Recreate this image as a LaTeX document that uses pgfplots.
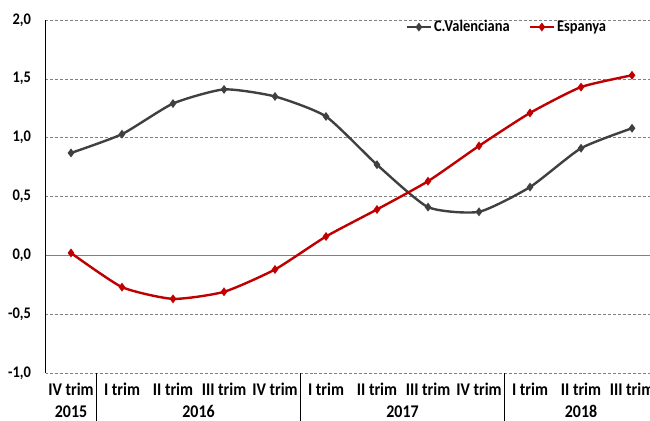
\documentclass[border=0pt]{standalone}
\usepackage{fontspec}
\setmainfont{Carlito}
\usepackage{graphicx}
\usepackage{pgfplots}
\pgfplotsset{compat=1.18}
\definecolor{cv}{HTML}{404040}
\definecolor{es}{HTML}{C00000}
\newcommand\vs[1]{\scalebox{1}[1.12]{#1}}
\begin{document}
\begin{tikzpicture}[x=1bp,y=1bp]
\useasboundingbox (0,0) rectangle (650,420);
\clip (0,0) rectangle (650,420);
\begin{axis}[
  scale only axis,
  width=612bp, height=353bp,
  at={(45.5bp,47bp)}, anchor=south west,
  xmin=-0.5, xmax=11.5, ymin=-1, ymax=2,
  xtick={0,...,11},
  xticklabels={\vs{IV trim}, \vs{I trim}, \vs{II trim}, \vs{III trim}, \vs{IV trim}, \vs{I trim}, \vs{II trim}, \vs{III trim}, \vs{IV trim}, \vs{I trim}, \vs{II trim}, \vs{III trim}},
  ytick={-1,-0.5,0,0.5,1,1.5,2},
  yticklabel={\vs{\pgfmathprintnumber{\tick}}},
  major tick length=0,
  separate axis lines,
  x axis line style={draw=none},
  y axis line style={draw=black, line width=0.8bp},
  ymajorgrids,
  grid style={gray, densely dashed, line width=0.6bp},
  extra y ticks={0},
  extra y tick labels={},
  extra y tick style={grid style={solid, gray, line width=1.5bp}},
  /pgf/number format/.cd, fixed, fixed zerofill, precision=1, use comma, assume math mode=true,
  /pgfplots/.cd,
  yticklabel style={font=\fontsize{14.5}{17}\selectfont\bfseries, xshift=-11bp},
  xticklabel style={font=\fontsize{16}{19}\selectfont\bfseries, anchor=base, yshift=-22bp},
  legend style={draw=none, fill=none, legend columns=2,
    font=\fontsize{14.5}{17}\selectfont\bfseries,
    /tikz/every even column/.append style={column sep=17bp},
    at={(axis cs:6.5,1.94)}, anchor=west},
  legend image code/.code={\draw[mark repeat=2,mark phase=2,#1] plot coordinates {(0bp,0bp) (12bp,0bp) (24bp,0bp)};},
]
\addplot[cv, line width=2.4bp, smooth, tension=0.35, mark=diamond*, mark size=2.5bp, mark options={solid}] coordinates {
(0,0.87) (1,1.03) (2,1.29) (3,1.41) (4,1.35) (5,1.18) (6,0.77) (7,0.41) (8,0.37) (9,0.58) (10,0.91) (11,1.08)};
\addlegendentry{\vs{C.Valenciana}}
\addplot[es, line width=2.4bp, smooth, tension=0.35, mark=diamond*, mark size=2.5bp, mark options={solid}] coordinates {
(0,0.02) (1,-0.27) (2,-0.37) (3,-0.31) (4,-0.12) (5,0.16) (6,0.39) (7,0.63) (8,0.93) (9,1.21) (10,1.43) (11,1.53)};
\addlegendentry{\vs{Espanya}}
\coordinate (s1) at (axis cs:0.5,-1);
\coordinate (s2) at (axis cs:4.5,-1);
\coordinate (s3) at (axis cs:8.5,-1);
\coordinate (y1) at (axis cs:0,-1);
\coordinate (y2) at (axis cs:2.5,-1);
\coordinate (y3) at (axis cs:6.5,-1);
\coordinate (y4) at (axis cs:10,-1);
\end{axis}
\foreach \s in {s1,s2,s3} \draw[black, line width=0.8bp] (\s) -- ++(0,-50);
\foreach \y/\t in {y1/2015,y2/2016,y3/2017,y4/2018}
  \node[anchor=base, font=\fontsize{16}{19}\selectfont\bfseries, yshift=-44bp, inner sep=0pt] at (\y) {\vs{\t}};
\end{tikzpicture}
\end{document}
